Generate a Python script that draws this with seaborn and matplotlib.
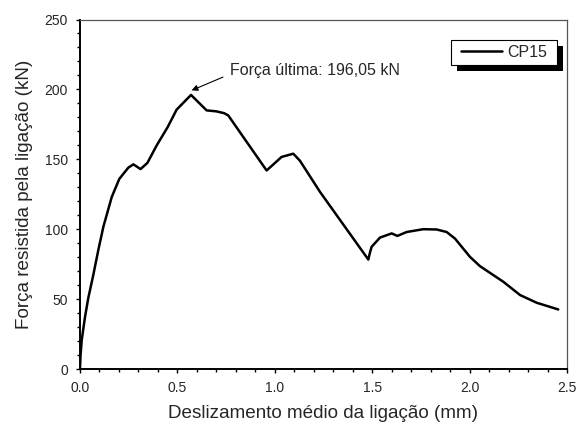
import matplotlib
matplotlib.use("Agg")
import matplotlib.pyplot as plt
import matplotlib.patches as mpatches
from matplotlib.ticker import MultipleLocator
import pandas as pd
import seaborn as sns

# curva força x deslizamento
deslizamento = [0.0, 0.003, 0.009, 0.026, 0.043, 0.068, 0.094, 0.12, 0.163, 0.202,
                0.225, 0.248, 0.274, 0.311, 0.346, 0.394, 0.45, 0.496, 0.570, 0.650,
                0.700, 0.740, 0.761, 0.958, 1.035, 1.095, 1.129, 1.232, 1.480, 1.488,
                1.497, 1.54, 1.60, 1.629, 1.677, 1.762, 1.831, 1.882, 1.925, 2.002,
                2.053, 2.173, 2.259, 2.344, 2.455]
forca = [0.0, 10.0, 20.7, 37.4, 51.0, 67.0, 85.0, 101.7, 123.0, 136.0,
         140.0, 144.0, 146.4, 143.0, 147.4, 160.0, 173.0, 185.5, 196.05, 185.0,
         184.3, 183.0, 181.4, 142.0, 151.7, 154.0, 149.0, 126.7, 78.3, 83.0,
         87.4, 94.0, 97.0, 95.2, 98.0, 100.0, 99.8, 98.0, 93.3, 80.2,
         73.6, 62.4, 52.9, 47.4, 42.6]

df = pd.DataFrame({'x': deslizamento, 'y': forca})

sns.set_style('white')
plt.rcParams['font.family'] = ['Liberation Sans', 'DejaVu Sans']

fig = plt.figure(figsize=(5.77, 4.24), dpi=100)
ax = fig.add_axes([0.1386, 0.1297, 0.8441, 0.8243])

sns.lineplot(data=df, x='x', y='y', sort=False, estimator=None,
             color='black', linewidth=1.8, label='CP15', ax=ax)

ax.set_xlim(0, 2.5)
ax.set_ylim(0, 250)
ax.xaxis.set_major_locator(MultipleLocator(0.5))
ax.xaxis.set_minor_locator(MultipleLocator(0.1))
ax.yaxis.set_major_locator(MultipleLocator(50))
ax.yaxis.set_minor_locator(MultipleLocator(10))
ax.tick_params(which='major', direction='out', length=3.2, width=1.0, pad=5.5,
               labelsize=10, bottom=True, left=True, top=False, right=False, color='black')
ax.tick_params(which='minor', direction='out', length=2.0, width=1.0,
               bottom=True, left=True, top=False, right=False, color='black')

for side in ['left', 'bottom']:
    ax.spines[side].set_linewidth(1.4)
    ax.spines[side].set_color('black')
for side in ['top', 'right']:
    ax.spines[side].set_linewidth(0.9)
    ax.spines[side].set_color('#555555')

ax.set_xlabel("Deslizamento médio da ligação (mm)", fontsize=13.6, labelpad=7)
ax.set_ylabel("Força resistida pela ligação (kN)", fontsize=13.6, labelpad=8.5)

# anotação da força última
ax.annotate('', xy=(0.573, 199.3), xytext=(0.734, 208.8),
            arrowprops=dict(arrowstyle='-|>', color='black', lw=0.8,
                            mutation_scale=9, shrinkA=0, shrinkB=0))
ax.text(0.77, 213.6, "Força última: 196,05 kN", fontsize=11.5, ha='left', va='center')

# legenda com quadro e sombra preta
box_x0, box_y0, box_w, box_h = 0.761, 0.870, 0.218, 0.071
dx, dy = 6 / 487, 6 / 349.5
shadow = mpatches.Rectangle((box_x0 + dx, box_y0 - dy), box_w, box_h,
                            transform=ax.transAxes, facecolor='black',
                            edgecolor='none', zorder=4, clip_on=False)
frame = mpatches.Rectangle((box_x0, box_y0), box_w, box_h,
                           transform=ax.transAxes, facecolor='white',
                           edgecolor='black', linewidth=0.8, zorder=5, clip_on=False)
ax.add_patch(shadow)
ax.add_patch(frame)

leg = ax.legend(loc='center', bbox_to_anchor=(box_x0 + box_w / 2, box_y0 + box_h / 2),
                fontsize=11.5, frameon=False, handlelength=2.6,
                handletextpad=0.3, borderpad=0.0, borderaxespad=0)
leg.set_zorder(6)

fig.savefig('out.png', dpi=100)
